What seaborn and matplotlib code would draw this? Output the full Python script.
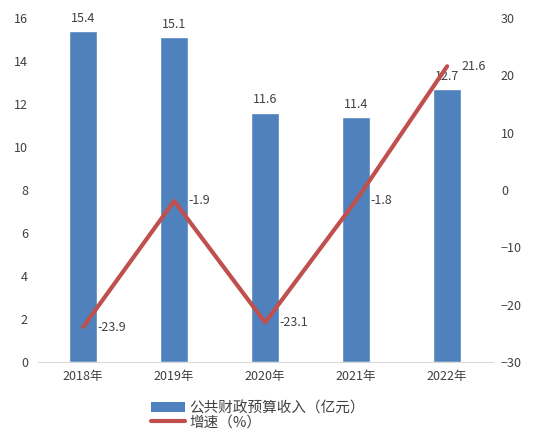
import numpy as np
import matplotlib
matplotlib.use("Agg")
import matplotlib.pyplot as plt
import seaborn as sns
import pandas as pd
from matplotlib.patches import Patch
from matplotlib.lines import Line2D

years = ["2018年", "2019年", "2020年", "2021年", "2022年"]
revenue = [15.4, 15.1, 11.6, 11.4, 12.7]
growth = [-23.9, -1.9, -23.1, -1.8, 21.6]

sns.set_style("white")
plt.rcParams['font.family'] = ['Noto Sans CJK SC', 'DejaVu Sans']

BAR_COLOR = "#4F81BD"
LINE_COLOR = "#C0504D"
TEXT_COLOR = "#404040"

df = pd.DataFrame({"year": years, "revenue": revenue, "growth": growth})

fig = plt.figure(figsize=(5.34, 4.42), dpi=100)
ax = fig.add_axes([0.0705, 0.181, 0.852, 0.778])
sns.barplot(data=df, x="year", y="revenue", color=BAR_COLOR, width=0.315,
            saturation=1, ax=ax)
ax.set_ylim(0, 16)
ax.set_yticks(range(0, 17, 2))
ax.set_xlim(-0.5, 4.5)
ax.set_xlabel("")
ax.set_ylabel("")
for i, v in enumerate(revenue):
    ax.text(i, v + 0.3, f"{v}", ha="center", va="bottom", fontsize=9, color=TEXT_COLOR)

ax2 = ax.twinx()
sns.lineplot(data=df, x="year", y="growth", color=LINE_COLOR, linewidth=3, ax=ax2, sort=False)
ax2.set_ylim(-30, 30)
ax2.set_yticks(range(-30, 31, 10))
ax2.set_ylabel("")
ax2.set_xlim(-0.5, 4.5)
for i, v in enumerate(growth):
    ax2.text(i + 0.16, v, f"{v}", ha="left", va="center", fontsize=9, color=TEXT_COLOR)

for a in (ax, ax2):
    for s in ("top", "left", "right"):
        a.spines[s].set_visible(False)
    a.tick_params(length=0, labelsize=9, colors=TEXT_COLOR)
ax.spines["bottom"].set_color("#D9D9D9")
ax2.spines["bottom"].set_visible(False)
ax.tick_params(axis="x", pad=6)
ax.tick_params(axis="y", pad=7)
ax2.tick_params(axis="y", pad=6)

handles = [Patch(facecolor=BAR_COLOR, edgecolor="none"),
           Line2D([0], [0], color=LINE_COLOR, linewidth=3)]
fig.legend(handles, ["公共财政预算收入（亿元）", "增速（%）"], loc="center",
           bbox_to_anchor=(0.483, 0.061), ncol=1, frameon=False, fontsize=10.5,
           handlelength=2.3, handleheight=0.7, labelspacing=0.0,
           handletextpad=0.3, borderpad=0, labelcolor=TEXT_COLOR)

fig.savefig("out.png", dpi=100)
